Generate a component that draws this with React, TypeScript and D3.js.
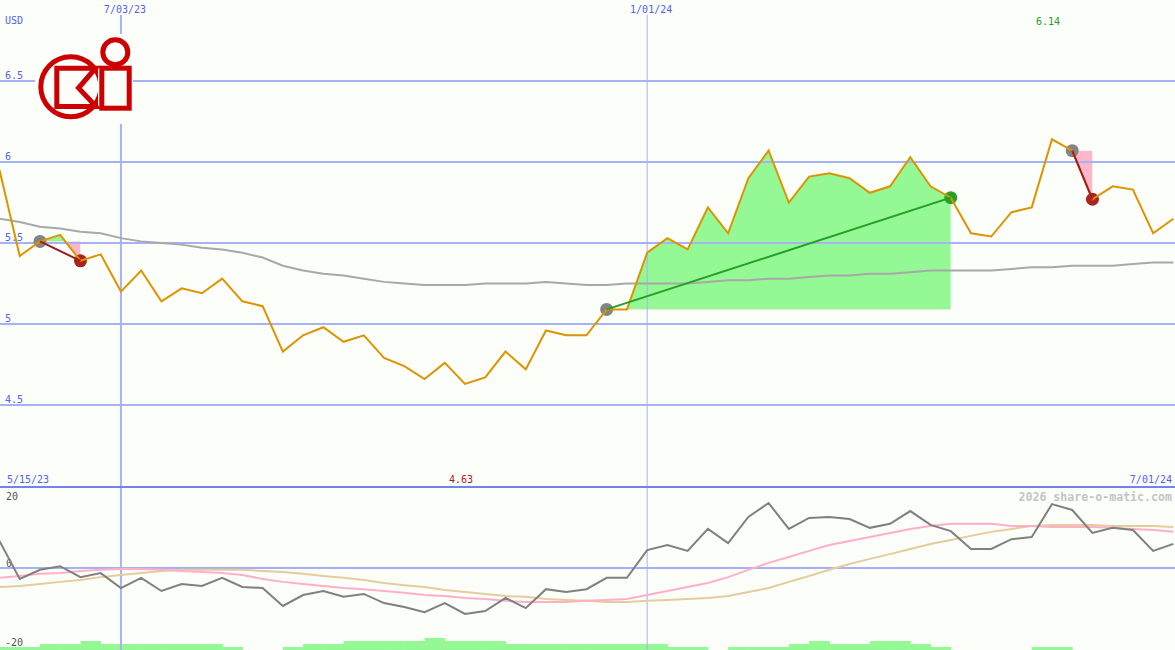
import React from "react";
import * as d3 from "d3";

// ---------- data ----------
const startDate = new Date(2023, 4, 22);
const endDate = new Date(2024, 6, 1);
const weeks: Date[] = d3.timeMonday.range(startDate, d3.timeDay.offset(endDate, 1));

const price = [
  5.95, 5.42, 5.51, 5.55, 5.39, 5.43, 5.2, 5.33, 5.14, 5.22,
  5.19, 5.28, 5.14, 5.11, 4.83, 4.93, 4.98, 4.89, 4.93, 4.79,
  4.74, 4.66, 4.76, 4.63, 4.67, 4.83, 4.72, 4.96, 4.93, 4.93,
  5.09, 5.09, 5.44, 5.53, 5.46, 5.72, 5.56, 5.9, 6.07, 5.75,
  5.91, 5.93, 5.9, 5.81, 5.85, 6.03, 5.85, 5.78, 5.56, 5.54,
  5.69, 5.72, 6.14, 6.07, 5.77, 5.85, 5.83, 5.56, 5.65,
];

const movingAvg = [
  5.65, 5.63, 5.6, 5.59, 5.57, 5.56, 5.53, 5.51, 5.5, 5.49,
  5.47, 5.46, 5.44, 5.41, 5.36, 5.33, 5.31, 5.3, 5.28, 5.26,
  5.25, 5.24, 5.24, 5.24, 5.25, 5.25, 5.25, 5.26, 5.25, 5.24,
  5.24, 5.25, 5.25, 5.25, 5.25, 5.26, 5.27, 5.27, 5.28, 5.28,
  5.29, 5.3, 5.3, 5.31, 5.31, 5.32, 5.33, 5.33, 5.33, 5.33,
  5.34, 5.35, 5.35, 5.36, 5.36, 5.36, 5.37, 5.38, 5.38,
];

const oscillator = [
  7.4, -3.0, -0.5, 0.5, -2.5, -1.4, -5.5, -2.7, -6.3, -4.4,
  -4.9, -2.7, -5.2, -5.5, -10.4, -7.4, -6.3, -7.9, -7.1, -9.6,
  -10.7, -12.1, -9.6, -12.6, -11.8, -8.2, -11.0, -5.8, -6.6, -5.8,
  -2.7, -2.7, 4.9, 6.3, 4.7, 10.7, 6.8, 14.0, 17.8, 10.7,
  13.7, 14.0, 13.4, 11.0, 12.1, 15.6, 11.8, 10.1, 5.2, 5.2,
  7.9, 8.5, 17.5, 15.9, 9.6, 11.0, 10.4, 4.7, 6.6,
];

const signalPink = [
  -2.7, -2.2, -1.6, -1.4, -0.8, -0.5, -0.3, -0.3, -0.5, -0.8,
  -1.1, -1.4, -1.9, -3.0, -3.8, -4.4, -4.9, -5.5, -5.8, -6.3,
  -6.8, -7.4, -7.7, -8.2, -8.5, -9.0, -9.3, -9.3, -9.3, -9.0,
  -8.8, -8.5, -7.4, -6.3, -5.2, -4.1, -2.5, -0.5, 1.4, 3.0,
  4.7, 6.3, 7.4, 8.5, 9.6, 10.7, 11.5, 12.1, 12.1, 12.1,
  11.5, 11.5, 11.2, 11.2, 11.2, 11.0, 10.7, 10.4, 9.9,
];

const signalTan = [
  -5.2, -4.9, -4.4, -3.8, -3.3, -2.5, -1.9, -1.4, -0.8, -0.5,
  -0.5, -0.5, -0.5, -0.8, -1.1, -1.6, -2.2, -2.7, -3.3, -4.1,
  -4.7, -5.2, -6.0, -6.6, -7.1, -7.7, -7.9, -8.5, -8.8, -9.0,
  -9.3, -9.3, -9.0, -8.8, -8.5, -8.2, -7.7, -6.6, -5.5, -3.8,
  -2.2, -0.5, 1.1, 2.5, 3.8, 5.2, 6.6, 7.7, 8.8, 9.9,
  10.7, 11.5, 11.8, 11.8, 11.8, 11.5, 11.5, 11.5, 11.2,
];

const volume = [
  1, 1, 2, 2, 3, 2, 2, 2, 2, 2,
  2, 1, 0, 0, 1, 2, 2, 3, 3, 3,
  3, 4, 3, 3, 3, 2, 2, 2, 2, 2,
  2, 2, 2, 1, 1, 0, 1, 1, 1, 2,
  3, 2, 2, 3, 3, 2, 1, 0, 0, 0,
  0, 1, 1, 0, 0, 0, 0, 0, 0,
];

const priceTicks = [4.5, 5, 5.5, 6, 6.5];
const priceTickLabels = ["4.5", "5", "5.5", "6", "6.5"];
const dateTicks = [new Date(2023, 6, 3), new Date(2024, 0, 1)];
const dateTickLabels = ["7/03/23", "1/01/24"];
const dateTickWidths = [2, 1];
const oscTicks = [20, 0, -20];
const oscTickLabels = ["20", "0", "-20"];
const trades = [
  { entry: 2, exit: 4 },
  { entry: 30, exit: 47 },
  { entry: 53, exit: 54 },
];

// ---------- styles ----------
const BG = "#fcfefa";
const GRID = "#a6b2f4";
const BLUE_TEXT = "#5262f0";
const FONT = "'DejaVu Sans Mono', monospace";
const LOGO_RED = "#cc0000";

export default function App() {
  const W = 1175;
  const H = 650;
  const x = d3.scaleTime().domain([startDate, endDate]).range([-0.5, 1173.4]);
  const y = d3.scaleLinear().domain([4.5, 6.5]).range([405, 81]);
  const yo = d3.scaleLinear().domain([-20, 20]).range([641, 495]);
  const yv = d3.scaleLinear().domain([0, 4]).range([650, 638]);

  const xi = (i: number) => x(weeks[i]);

  const priceLine = d3.line<number>().x((_, i) => xi(i)).y((d) => y(d));
  const oscLine = d3.line<number>().x((_, i) => xi(i)).y((d) => yo(d));

  const minIdx = d3.minIndex(price);
  const maxIdx = d3.maxIndex(price);

  return (
    <svg
      width={W}
      height={H}
      style={{ position: "absolute", left: 0, top: 0, display: "block", background: BG }}
      fontFamily={FONT}
    >
      <rect x={0} y={0} width={W} height={H} fill={BG} />
      <defs>
        {trades.map((t, k) => {
          const x0 = xi(t.entry);
          const x1 = xi(t.exit);
          const ly = y(price[t.entry]);
          return (
            <React.Fragment key={k}>
              <clipPath id={`up${k}`}>
                <rect x={x0} y={0} width={x1 - x0} height={ly} />
              </clipPath>
              <clipPath id={`dn${k}`}>
                <rect x={x0} y={ly} width={x1 - x0} height={H - ly} />
              </clipPath>
            </React.Fragment>
          );
        })}
        <clipPath id="logoCircleClip">
          <rect x={30} y={40} width={68} height={90} />
        </clipPath>
      </defs>

      {/* trade fills */}
      {trades.map((t, k) => {
        const idx = d3.range(t.entry, t.exit + 1);
        const ly = y(price[t.entry]);
        const area = d3
          .area<number>()
          .x((i) => xi(i))
          .y0(ly)
          .y1((i) => y(price[i]));
        const dAttr = area(idx) || "";
        return (
          <g key={k}>
            <path d={dAttr} fill="#94f894" clipPath={`url(#up${k})`} />
            <path d={dAttr} fill="#ffb6c8" clipPath={`url(#dn${k})`} />
          </g>
        );
      })}

      {/* volume bars */}
      {volume.map((v, i) =>
        v > 0 && i < weeks.length - 1 ? (
          <rect
            key={i}
            x={xi(i)}
            y={yv(v)}
            width={xi(i + 1) - xi(i) + 0.5}
            height={yv(0) - yv(v)}
            fill="#94f894"
          />
        ) : null
      )}

      {/* horizontal price gridlines */}
      {priceTicks.map((t, k) => (
        <g key={k}>
          <line x1={0} x2={W} y1={y(t)} y2={y(t)} stroke={GRID} strokeWidth={2} />
          <text x={5} y={y(t) - 2} fontSize={10} fill={BLUE_TEXT}>
            {priceTickLabels[k]}
          </text>
        </g>
      ))}

      {/* vertical date gridlines */}
      {dateTicks.map((d, k) => (
        <g key={k}>
          <line
            x1={x(d)}
            x2={x(d)}
            y1={15}
            y2={H}
            stroke={GRID}
            strokeWidth={dateTickWidths[k]}
          />
          <text x={x(d) + 4} y={13} fontSize={10} fill={BLUE_TEXT} textAnchor="middle">
            {dateTickLabels[k]}
          </text>
        </g>
      ))}

      {/* lower panel frame */}
      <line x1={0} x2={W} y1={487} y2={487} stroke="#7282f0" strokeWidth={2} />
      <line x1={0} x2={W} y1={yo(0)} y2={yo(0)} stroke={GRID} strokeWidth={2} />
      {oscTicks.map((t, k) => (
        <text key={k} x={k === 2 ? 5 : 6} y={yo(t) + (k === 1 ? -1 : 5)} fontSize={10} fill="#555">
          {oscTickLabels[k]}
        </text>
      ))}
      <text x={7} y={483} fontSize={10} fill={BLUE_TEXT}>5/15/23</text>
      <text x={1172} y={483} fontSize={10} fill={BLUE_TEXT} textAnchor="end">7/01/24</text>
      <text x={1172} y={501} fontSize={11.6} fontWeight="bold" fill="#c4c4c4" textAnchor="end">
        2026 share-o-matic.com
      </text>

      {/* oscillator lines */}
      <path d={oscLine(signalTan) || ""} fill="none" stroke="#e4cc9c" strokeWidth={2} />
      <path d={oscLine(signalPink) || ""} fill="none" stroke="#ffb0c8" strokeWidth={2} />
      <path d={oscLine(oscillator) || ""} fill="none" stroke="#808080" strokeWidth={2} />

      {/* moving average */}
      <path d={priceLine(movingAvg) || ""} fill="none" stroke="#a8a8a8" strokeWidth={2} />

      {/* trade markers */}
      {trades.map((t, k) => {
        const win = price[t.exit] > price[t.entry];
        return (
          <g key={k}>
            <circle cx={xi(t.entry)} cy={y(price[t.entry])} r={6.5} fill="#848484" />
            <circle cx={xi(t.exit)} cy={y(price[t.exit])} r={6.5} fill={win ? "#28a028" : "#aa2222"} />
          </g>
        );
      })}

      {/* price line */}
      <path d={priceLine(price) || ""} fill="none" stroke="#dc9400" strokeWidth={2} />

      {/* trade lines */}
      {trades.map((t, k) => {
        const win = price[t.exit] > price[t.entry];
        return (
          <line
            key={k}
            x1={xi(t.entry)}
            y1={y(price[t.entry])}
            x2={xi(t.exit)}
            y2={y(price[t.exit])}
            stroke={win ? "#22a022" : "#a01c1c"}
            strokeWidth={2}
          />
        );
      })}

      {/* min / max labels */}
      <text x={xi(maxIdx) - 4} y={25} fontSize={10} fill="#22a022" textAnchor="middle">
        {d3.format(".2f")(price[maxIdx])}
      </text>
      <text x={xi(minIdx) - 4} y={483} fontSize={10} fill="#aa1c1c" textAnchor="middle">
        {d3.format(".2f")(price[minIdx])}
      </text>

      <text x={5} y={24} fontSize={10} fill={BLUE_TEXT}>USD</text>

      {/* logo */}
      <g>
        <rect x={35} y={34} width={98} height={90} fill={BG} />
        <circle
          cx={70.8}
          cy={86.8}
          r={30}
          fill="none"
          stroke={LOGO_RED}
          strokeWidth={5}
          clipPath="url(#logoCircleClip)"
        />
        <polygon
          points="56.8,68.2 95.5,68.2 78.5,88 96,106.5 56.8,106.5"
          fill={BG}
          stroke={LOGO_RED}
          strokeWidth={5}
          strokeLinejoin="miter"
        />
        <rect x={101.8} y={68.2} width={27.4} height={40} fill={BG} stroke={LOGO_RED} strokeWidth={5} />
        <circle cx={115.3} cy={52.2} r={12.5} fill={BG} stroke={LOGO_RED} strokeWidth={5} />
      </g>
    </svg>
  );
}
